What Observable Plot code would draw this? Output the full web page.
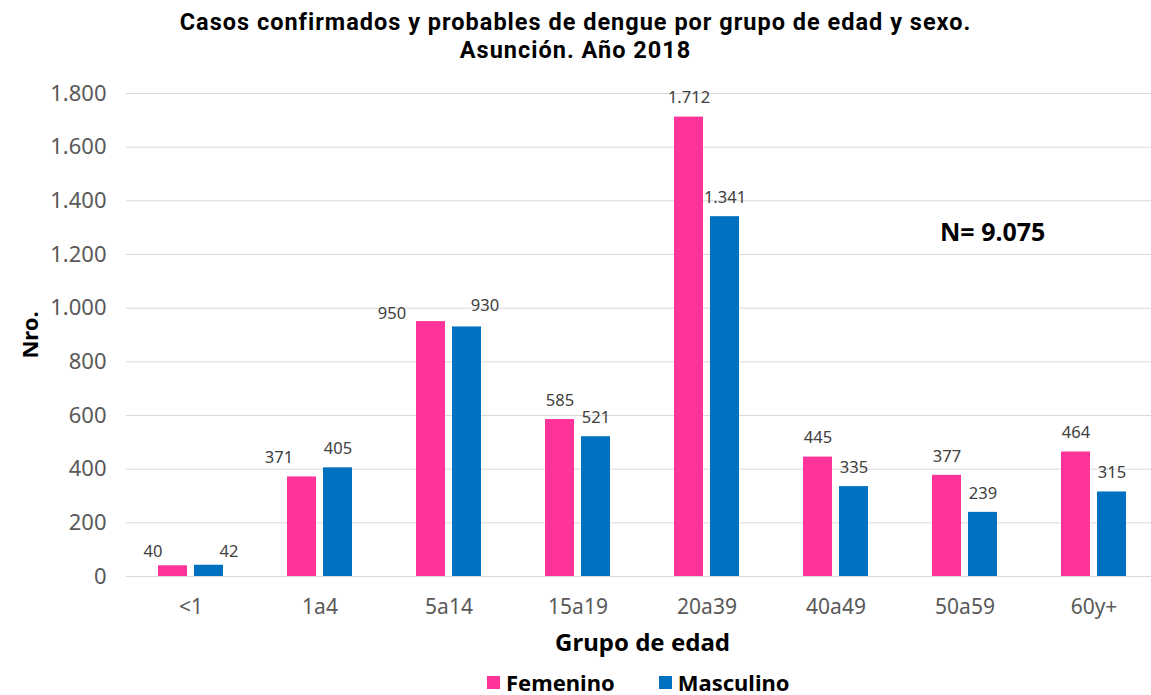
<!DOCTYPE html>
<html>
<head>
<meta charset="utf-8">
<script src="https://cdn.jsdelivr.net/npm/d3@7"></script>
<script src="https://cdn.jsdelivr.net/npm/@observablehq/plot@0.6"></script>
<style>
  html, body { margin: 0; padding: 0; background: #fff; overflow: hidden; }
  body { width: 1151px; height: 695px; font-family: "Noto Sans", "Open Sans", sans-serif; position: relative; }
  #title { height: 70px; text-align: center; font-family: Roboto, "Noto Sans", sans-serif; font-weight: bold; font-size: 23.5px; line-height: 28px; color: #000; padding-top: 8px; box-sizing: border-box; white-space: nowrap; letter-spacing: 1px; }
  #chart { height: 590px; width: 1151px; overflow: hidden; }
  #chart svg { max-width: none !important; }
  #legend { height: 44px; display: flex; justify-content: flex-start; align-items: center; gap: 44px; font-weight: bold; font-size: 22px; line-height: 26px; color: #000; padding-left: 487px; }
  #legend .item { display: flex; align-items: center; gap: 6px; }
  #legend .sw { width: 13px; height: 13px; display: inline-block; }
  #nlabel { position: absolute; left: 940px; top: 214px; font-weight: bold; font-size: 25px; color: #000; }
</style>
</head>
<body>
<div id="title">Casos confirmados y probables de dengue por grupo de edad y sexo.<br>Asunción. Año 2018</div>
<div id="chart"></div>
<div id="legend"></div>
<div id="nlabel">N= 9.075</div>
<script>
const categorias = ["<1", "1a4", "5a14", "15a19", "20a39", "40a49", "50a59", "60y+"];
const femenino = [40, 371, 950, 585, 1712, 445, 377, 464];
const masculino = [42, 405, 930, 521, 1341, 335, 239, 315];
const series = ["Femenino", "Masculino"];
const colores = ["#FF3399", "#0070C0"];
const yTicks = [0, 200, 400, 600, 800, 1000, 1200, 1400, 1600, 1800];

const data = categorias.flatMap((c, i) => [
  {grupo: c, sexo: series[0], valor: femenino[i]},
  {grupo: c, sexo: series[1], valor: masculino[i]}
]);

const loc = d3.formatLocale({decimal: ",", thousands: ".", grouping: [3], currency: ["", ""]});
const fmt = loc.format(",d");

// manual label placements (as in the original, where some labels were moved)
const labelShift = {
  "<1|Femenino": [-20, 5],
  "<1|Masculino": [20, 5],
  "1a4|Femenino": [-23, 0],
  "5a14|Femenino": [-39, 11],
  "5a14|Masculino": [18, -2]
};
const shifted = (key) => labelShift[key] || [0, 0];

const labelMarks = data.map(d => {
  const [dx, dy] = shifted(d.grupo + "|" + d.sexo);
  return Plot.text([d], {
    fx: "grupo", x: "sexo", y: "valor", text: d => fmt(d.valor),
    dx, dy: -19 + dy, fill: "#404040", fontSize: 16.5
  });
});

const plot = Plot.plot({
  width: 1160,
  height: 590,
  marginLeft: 123,
  marginRight: 0,
  marginTop: 23,
  marginBottom: 84,
  style: {fontFamily: "'Noto Sans', 'Open Sans', sans-serif", background: "#fff", maxWidth: "none"},
  fx: {domain: categorias, padding: 0, label: null},
  x: {domain: series, paddingInner: 0.19, paddingOuter: 0.84, axis: null},
  y: {domain: [0, 1800], label: null},
  color: {domain: series, range: colores},
  marks: [
    Plot.ruleY(yTicks, {stroke: "#d9d9d9", strokeWidth: 1}),
    Plot.barY(data, {fx: "grupo", x: "sexo", y: "valor", fill: "sexo"}),
    ...labelMarks,
    Plot.axisY({ticks: yTicks, tickFormat: fmt, tickSize: 0, tickPadding: 20, fontSize: 22, color: "#595959", label: "Nro.", labelAnchor: "center", labelOffset: 104, labelArrow: "none"}),
    Plot.axisFx({anchor: "bottom", tickSize: 0, tickPadding: 23, fontSize: 21, color: "#595959", label: "Grupo de edad", labelAnchor: "center", labelOffset: 74, labelArrow: "none"})
  ]
});
document.getElementById("chart").appendChild(plot);

// style axis labels
plot.querySelectorAll("[aria-label='y-axis label'] text, [aria-label='fx-axis label'] text").forEach(t => {
  t.setAttribute("font-weight", "bold");
  t.setAttribute("fill", "#000");
});
plot.querySelectorAll("[aria-label='y-axis label'] text").forEach(t => t.setAttribute("font-size", 22));
plot.querySelectorAll("[aria-label='fx-axis label'] text").forEach(t => t.setAttribute("font-size", 24));

const legend = document.getElementById("legend");
series.forEach((s, i) => {
  const item = document.createElement("div");
  item.className = "item";
  item.innerHTML = `<span class="sw" style="background:${colores[i]}"></span><span>${s}</span>`;
  legend.appendChild(item);
});
</script>
</body>
</html>
